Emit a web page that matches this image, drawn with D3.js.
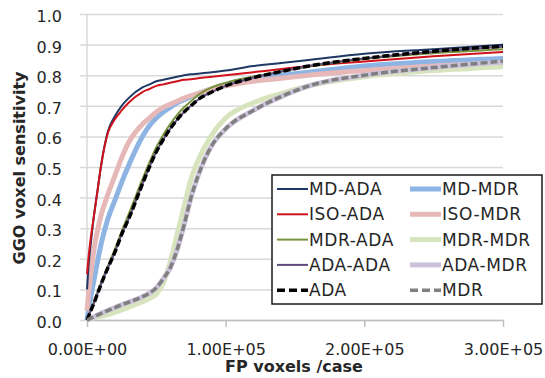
<html lang="en">
<head>
  <meta charset="UTF-8" />
  <title>GGO voxel sensitivity</title>
  <script src="https://d3js.org/d3.v7.min.js"></script>
  <style>
    body {
      margin: 0;
      background: white;
    }
    text {
      font-family: "DejaVu Sans", sans-serif;
      fill: #262626;
    }
    .gridlines .domain {
      display: none;
    }
    .gridlines line {
      stroke: #d9d9d9;
      stroke-width: 1.5px;
    }
  </style>
</head>
<body>
  <svg id="chart" width="545" height="378"></svg>
  <script>
    // FP voxels per case (shared x values for every curve)
    const fpVoxels = [0, 1000, 2500, 5000, 7500, 10000, 15000, 20000, 25000, 30000,
      40000, 45000, 50000, 55000, 60000, 65000, 70000, 75000, 80000, 90000,
      100000, 120000, 140000, 160000, 200000, 250000, 300000];

    const mdAda = [0.10, 0.17, 0.24, 0.34, 0.42, 0.50, 0.615, 0.665, 0.70, 0.725,
      0.76, 0.77, 0.78, 0.785, 0.79, 0.795, 0.80, 0.803, 0.805, 0.81,
      0.815, 0.83, 0.84, 0.85, 0.87, 0.885, 0.90];
    const isoAda = [0.15, 0.20, 0.26, 0.34, 0.42, 0.50, 0.61, 0.655, 0.685, 0.71,
      0.745, 0.755, 0.765, 0.77, 0.775, 0.78, 0.785, 0.787, 0.79, 0.795,
      0.80, 0.81, 0.82, 0.83, 0.845, 0.862, 0.876];
    const mdrAda = [0, 0.012, 0.03, 0.06, 0.09, 0.12, 0.175, 0.23, 0.29, 0.345,
      0.46, 0.515, 0.565, 0.605, 0.64, 0.67, 0.695, 0.715, 0.735, 0.76,
      0.775, 0.795, 0.812, 0.828, 0.853, 0.872, 0.885];
    const adaAda = [0, 0.011, 0.028, 0.055, 0.085, 0.115, 0.17, 0.22, 0.28, 0.33,
      0.445, 0.50, 0.55, 0.59, 0.625, 0.655, 0.68, 0.70, 0.72, 0.745,
      0.765, 0.792, 0.812, 0.83, 0.855, 0.877, 0.893];
    const mdMdr = [0, 0.03, 0.07, 0.13, 0.19, 0.245, 0.33, 0.39, 0.45, 0.505,
      0.60, 0.635, 0.66, 0.68, 0.695, 0.71, 0.72, 0.73, 0.74, 0.755,
      0.77, 0.79, 0.80, 0.81, 0.83, 0.845, 0.855];
    const isoMdr = [0.03, 0.08, 0.14, 0.23, 0.29, 0.34, 0.41, 0.47, 0.53, 0.58,
      0.64, 0.66, 0.68, 0.695, 0.705, 0.715, 0.725, 0.733, 0.74, 0.755,
      0.765, 0.78, 0.79, 0.80, 0.815, 0.83, 0.84];
    const mdrMdr = [0, 0.002, 0.004, 0.008, 0.01, 0.012, 0.018, 0.025, 0.033, 0.042,
      0.06, 0.07, 0.085, 0.12, 0.19, 0.28, 0.37, 0.46, 0.52, 0.605,
      0.66, 0.71, 0.74, 0.765, 0.795, 0.815, 0.828];
    const adaMdr = [0, 0.002, 0.005, 0.01, 0.016, 0.021, 0.031, 0.04, 0.05, 0.058,
      0.076, 0.088, 0.105, 0.135, 0.17, 0.23, 0.31, 0.40, 0.47, 0.57,
      0.625, 0.685, 0.73, 0.765, 0.80, 0.825, 0.843];
    const ada = [0, 0.011, 0.028, 0.055, 0.085, 0.115, 0.17, 0.22, 0.28, 0.33,
      0.445, 0.50, 0.55, 0.59, 0.625, 0.655, 0.68, 0.70, 0.72, 0.745,
      0.765, 0.792, 0.812, 0.83, 0.855, 0.878, 0.895];
    const mdr = [0, 0.002, 0.005, 0.01, 0.016, 0.021, 0.031, 0.04, 0.05, 0.058,
      0.076, 0.088, 0.105, 0.135, 0.17, 0.23, 0.31, 0.40, 0.47, 0.57,
      0.625, 0.685, 0.73, 0.765, 0.80, 0.825, 0.846];

    // legend order (row by row, two columns)
    const seriesNames = ["MD-ADA", "MD-MDR", "ISO-ADA", "ISO-MDR", "MDR-ADA",
      "MDR-MDR", "ADA-ADA", "ADA-MDR", "ADA", "MDR"];
    const seriesValues = [mdAda, mdMdr, isoAda, isoMdr, mdrAda,
      mdrMdr, adaAda, adaMdr, ada, mdr];

    const yTicks = [0, 0.1, 0.2, 0.3, 0.4, 0.5, 0.6, 0.7, 0.8, 0.9, 1.0];
    const xTicks = [0, 100000, 200000, 300000];
    const xTickLabels = ["0.00E+00", "1.00E+05", "2.00E+05", "3.00E+05"];

    const styles = {
      "MD-ADA": { color: "#1f3864", width: 2, dash: null, layer: 1 },
      "ISO-ADA": { color: "#d0121b", width: 2, dash: null, layer: 1 },
      "MDR-ADA": { color: "#77933c", width: 2, dash: null, layer: 1 },
      "ADA-ADA": { color: "#604a7b", width: 2, dash: null, layer: 1 },
      "MD-MDR": { color: "#8db4e2", width: 5, dash: null, layer: 0 },
      "ISO-MDR": { color: "#e6b9b8", width: 5, dash: null, layer: 0 },
      "MDR-MDR": { color: "#d7e4bd", width: 5, dash: null, layer: 0 },
      "ADA-MDR": { color: "#ccc1da", width: 5, dash: null, layer: 0 },
      "ADA": { color: "#000000", width: 3.5, dash: "7,3", layer: 2 },
      "MDR": { color: "#7f7f7f", width: 3.5, dash: "7,3", layer: 2 },
    };

    const svg = d3.select("svg#chart");
    const plot = { left: 87, right: 503, top: 14, bottom: 320 };

    const xScale = d3.scaleLinear().domain([0, 300000]).range([plot.left, plot.right]);
    const yScale = d3.scaleLinear().domain([0, 1]).range([plot.bottom, plot.top]);

    // horizontal gridlines + y tick labels
    const leftAxis = d3.axisLeft(yScale)
      .tickValues(yTicks)
      .tickFormat(d3.format(".1f"))
      .tickSize(-(plot.right - plot.left + 7))
      .tickPadding(18);
    const yAxisG = svg.append("g")
      .attr("class", "gridlines")
      .attr("transform", `translate(${plot.left - 7},0)`)
      .call(leftAxis);
    yAxisG.selectAll("text")
      .attr("font-size", 16)
      .attr("dy", "0.47em");

    // y axis line
    svg.append("line")
      .attr("x1", plot.left).attr("x2", plot.left)
      .attr("y1", plot.top).attr("y2", plot.bottom)
      .attr("stroke", "#d9d9d9").attr("stroke-width", 1.5);

    // bottom axis
    const bottomAxis = d3.axisBottom(xScale)
      .tickValues(xTicks)
      .tickFormat((d, i) => xTickLabels[i])
      .tickSize(7)
      .tickSizeOuter(0)
      .tickPadding(17);
    const xAxisG = svg.append("g")
      .attr("transform", `translate(0,${plot.bottom})`)
      .call(bottomAxis);
    xAxisG.select(".domain").attr("stroke", "#bfbfbf").attr("stroke-width", 1.5);
    xAxisG.selectAll("line").attr("stroke", "#bfbfbf").attr("stroke-width", 1.5);
    xAxisG.selectAll("text").attr("font-size", 16).attr("fill", "#262626");

    // curves
    const line = d3.line()
      .x((d) => xScale(d[0]))
      .y((d) => yScale(d[1]))
      .curve(d3.curveMonotoneX);

    const curves = svg.append("g").attr("id", "curves");
    const order = seriesNames
      .map((name, i) => ({ name, values: seriesValues[i] }))
      .sort((a, b) => styles[a.name].layer - styles[b.name].layer);

    order.forEach((s) => {
      const st = styles[s.name];
      curves.append("path")
        .datum(fpVoxels.map((x, i) => [x, s.values[i]]))
        .attr("d", line)
        .attr("fill", "none")
        .attr("stroke", st.color)
        .attr("stroke-width", st.width)
        .attr("stroke-dasharray", st.dash)
        .attr("stroke-linejoin", "round");
    });

    // legend
    const legend = svg.append("g").attr("id", "legend");
    legend.append("rect")
      .attr("x", 272).attr("y", 175)
      .attr("width", 270).attr("height", 129)
      .attr("fill", "white")
      .attr("stroke", "#1a1a1a")
      .attr("stroke-width", 1.5);

    seriesNames.forEach((name, i) => {
      const st = styles[name];
      const col = i % 2;
      const row = Math.floor(i / 2);
      const lx = col === 0 ? 277 : 410;
      const ly = 189 + row * 25.3;
      legend.append("line")
        .attr("x1", lx).attr("x2", lx + 31)
        .attr("y1", ly).attr("y2", ly)
        .attr("stroke", st.color)
        .attr("stroke-width", st.width)
        .attr("stroke-dasharray", st.dash ? "8,4" : null);
      legend.append("text")
        .attr("x", lx + 32)
        .attr("y", ly + 6)
        .attr("font-size", 17)
        .attr("letter-spacing", "0.6px")
        .text(name);
    });

    // axis titles
    svg.append("text")
      .attr("x", 294)
      .attr("y", 372)
      .attr("text-anchor", "middle")
      .attr("font-size", 16)
      .attr("font-weight", "bold")
      .text("FP voxels /case");

    svg.append("text")
      .attr("transform", "translate(25,168) rotate(-90)")
      .attr("text-anchor", "middle")
      .attr("font-size", 16)
      .attr("font-weight", "bold")
      .text("GGO voxel sensitivity");
  </script>
</body>
</html>
